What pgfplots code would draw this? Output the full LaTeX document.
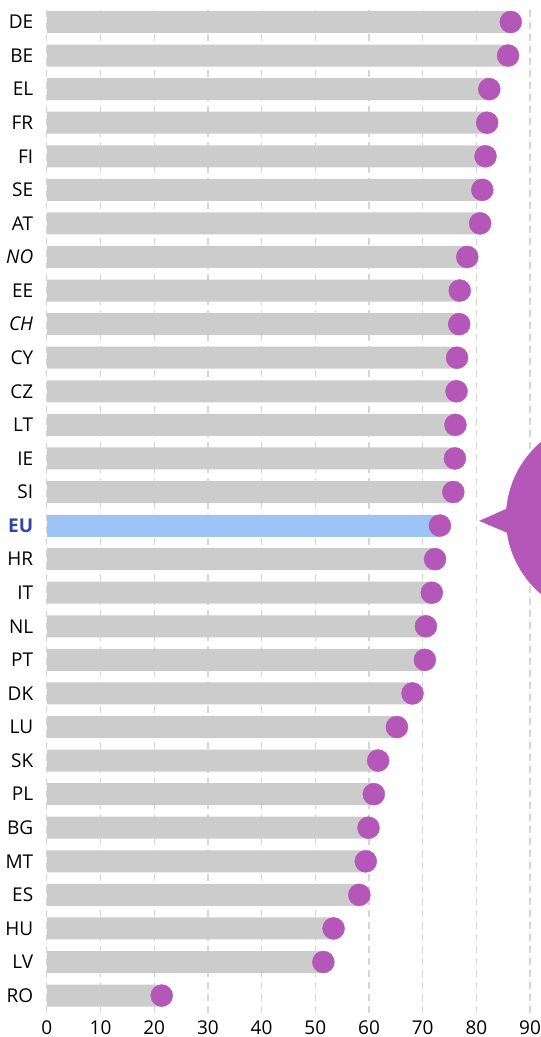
\documentclass[border=0pt]{standalone}
\usepackage{pgfplots}
\usepackage{pgfplotstable}
\pgfplotsset{compat=1.18}
\usepackage{fontspec}
\setmainfont{Open Sans}
\definecolor{bargray}{HTML}{CCCCCC}
\definecolor{eublue}{HTML}{9EC3F7}
\definecolor{eutext}{HTML}{2C48A8}
\definecolor{dotpurple}{HTML}{B557B9}
\definecolor{gridgray}{HTML}{D6D6D6}

\pgfplotstableread{
x y
21.4 0
51.5 1
53.4 2
58.2 3
59.4 4
59.9 5
60.9 6
61.7 7
65.2 8
68.1 9
70.4 10
70.6 11
71.7 12
72.3 13
75.7 15
76.0 16
76.1 17
76.3 18
76.4 19
76.8 20
76.9 21
78.3 22
80.7 23
81.1 24
81.7 25
82.0 26
82.4 27
85.9 28
86.4 29
}\grayData

\pgfplotstableread{
x y
73.2 14
}\euData

\begin{document}
\begin{tikzpicture}
\begin{axis}[
  scale only axis, width=483.3pt, height=1008pt,
  xmin=0, xmax=90, ymin=-0.518, ymax=29.506,
  clip=false,
  axis line style={draw=none},
  major tick length=0pt,
  xtick={0,10,...,90},
  xmajorgrids,
  grid style={gridgray, line width=1.3pt, dash pattern=on 7pt off 5pt},
  ytick={0,...,29},
  yticklabels={RO,LV,HU,ES,MT,BG,PL,SK,LU,DK,PT,NL,IT,HR,{\textbf{\textcolor{eutext}{EU}}},SI,IE,LT,CZ,CY,{\textit{CH}},EE,{\textit{NO}},AT,SE,FI,FR,EL,BE,DE},
  tick label style={font=\fontsize{19}{22}\selectfont},
  /pgf/number format/assume math mode=true,
  yticklabel style={anchor=east, inner sep=0pt, xshift=-13.4pt},
  xticklabel style={anchor=north, inner sep=0pt, yshift=-7.5pt},
  bar width=22pt, bar shift=0pt,
]
\addplot[xbar, fill=bargray, draw=none] table[x=x,y=y] {\grayData};
\addplot[xbar, fill=eublue, draw=none] table[x=x,y=y] {\euData};
\addplot[only marks, mark=*, mark size=11pt, color=dotpurple, mark options={fill=dotpurple, draw=none}] table[x=x,y=y] {\grayData};
\addplot[only marks, mark=*, mark size=11pt, color=dotpurple, mark options={fill=dotpurple, draw=none}] table[x=x,y=y] {\euData};
\fill[dotpurple] (axis cs:80.5,14.14) -- (axis cs:87,14.6) -- (axis cs:87,13.7) -- cycle;
\fill[dotpurple] (axis cs:104.1,14.225) circle[radius=100pt];
\end{axis}
\pgfresetboundingbox
\path[use as bounding box] ([xshift=-46.8pt,yshift=-24pt]current axis.south west) rectangle ([xshift=10pt,yshift=5pt]current axis.north east);
\end{tikzpicture}
\end{document}
